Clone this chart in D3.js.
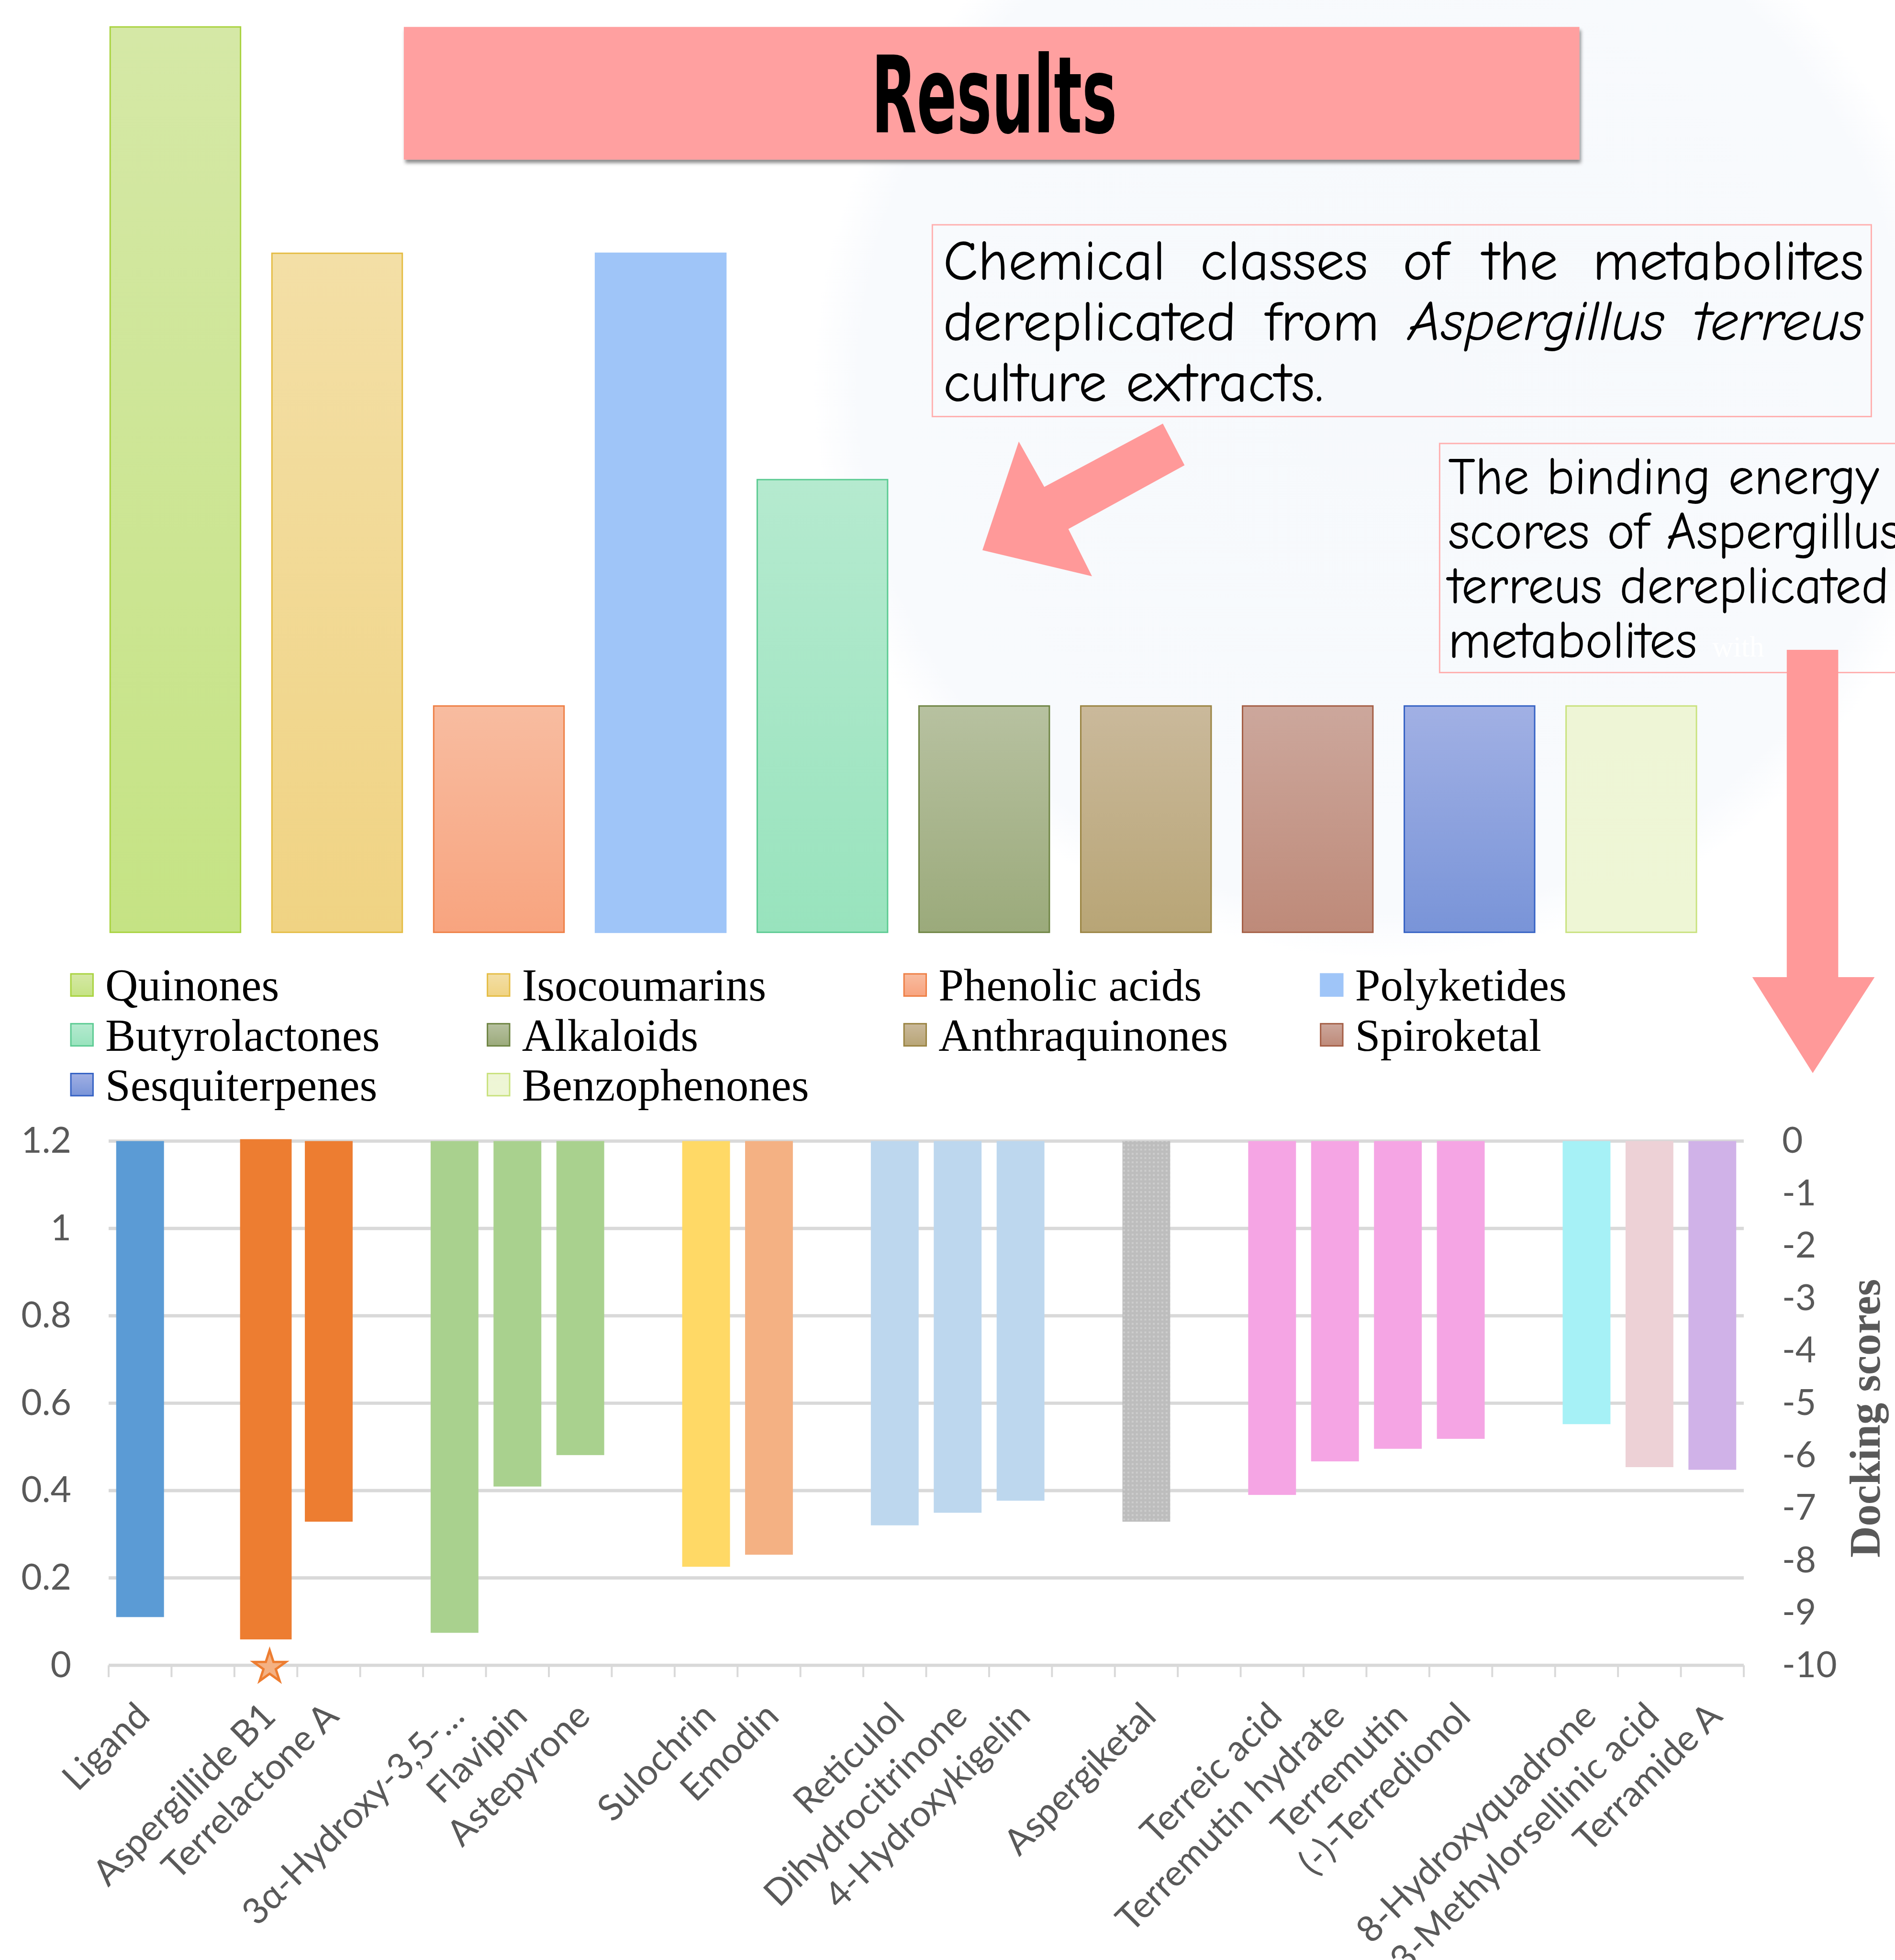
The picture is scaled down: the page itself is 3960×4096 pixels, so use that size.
<!DOCTYPE html>
<html>
<head>
<meta charset="utf-8">
<script src="https://cdn.jsdelivr.net/npm/d3@7"></script>
<style>
  body { margin: 0; background: #fff; }
  svg { display: block; }
</style>
</head>
<body>
<div id="chart"></div>
<script>
// ---- top chart: chemical classes ----
var classNames = ["Quinones", "Isocoumarins", "Phenolic acids", "Polyketides", "Butyrolactones",
                  "Alkaloids", "Anthraquinones", "Spiroketal", "Sesquiterpenes", "Benzophenones"];
var classCounts = [4, 3, 1, 3, 2, 1, 1, 1, 1, 1];
var classTopColor = ["#D5E8A6", "#F3DFA6", "#F8BCA0", "#9FC5F8", "#B5EACF",
                     "#B7C1A0", "#CAB99B", "#CCA79C", "#A1B0E4", "#EEF5D6"];
var classBottomColor = ["#C5E384", "#F0D383", "#F8A47F", "#9FC5F8", "#98E3BD",
                        "#9BAA7B", "#B8A576", "#BE8A79", "#7994D8", "#EEF6D5"];
var classEdgeColor = ["#A9D33F", "#E5BD45", "#EE7F45", "#9FC5F8", "#5DCB93",
                      "#6E8443", "#9A8442", "#A45E45", "#3562C4", "#C9E27E"];

// ---- bottom chart: docking scores ----
var compounds = ["Ligand", "", "Aspergillide B1", "Terrelactone A", "", "3α-Hydroxy-3,5-…", "Flavipin",
                 "Astepyrone", "", "Sulochrin", "Emodin", "", "Reticulol", "Dihydrocitrinone",
                 "4-Hydroxykigelin", "", "Aspergiketal", "", "Terreic acid", "Terremutin hydrate",
                 "Terremutin", "(-)-Terredionol", "", "8-Hydroxyquadrone", "3-Methylorsellinic acid",
                 "Terramide A"];
var dockingScores = [-9.08, null, -9.47, -7.26, null, -9.38, -6.59, -5.99, null, -8.12, -7.89, null,
                     -7.33, -7.09, -6.86, null, -7.26, null, -6.75, -6.11, -5.87, -5.68, null,
                     -5.40, -6.22, -6.27];
var compoundColors = ["#5B9BD5", null, "#ED7D31", "#ED7D31", null, "#A9D18E", "#A9D18E", "#A9D18E", null,
                      "#FFD966", "#F4B183", null, "#BDD7EE", "#BDD7EE", "#BDD7EE", null, "pattern", null,
                      "#F5A5E4", "#F5A5E4", "#F5A5E4", "#F5A5E4", null, "#A6F1F6", "#EDD1D6", "#D0B2E8"];
var leftTicks = [0, 0.2, 0.4, 0.6, 0.8, 1, 1.2];
var rightTicks = [0, -1, -2, -3, -4, -5, -6, -7, -8, -9, -10];
var highlighted = "Aspergillide B1";

var S = 0.987;
var svg = d3.select("#chart").append("svg")
  .attr("width", 3960)
  .attr("height", 4096);
var defs = svg.append("defs");
var g = svg.append("g").attr("transform", "scale(" + S + ")");

// background soft circle
var bg = defs.append("radialGradient").attr("id", "bgGrad");
bg.append("stop").attr("offset", "0%").attr("stop-color", "#F6F9FC");
bg.append("stop").attr("offset", "92%").attr("stop-color", "#F8FAFD");
bg.append("stop").attr("offset", "100%").attr("stop-color", "#FFFFFF");
g.append("circle").attr("cx", 2930).attr("cy", 820).attr("r", 1210).attr("fill", "url(#bgGrad)");

// gradients for class bars
classNames.forEach(function(c, i) {
  var lg = defs.append("linearGradient").attr("id", "cls" + i)
    .attr("x1", 0).attr("y1", 0).attr("x2", 0).attr("y2", 1);
  lg.append("stop").attr("offset", "0%").attr("stop-color", classTopColor[i]);
  lg.append("stop").attr("offset", "100%").attr("stop-color", classBottomColor[i]);
});

// dotted pattern for Aspergiketal
var pat = defs.append("pattern").attr("id", "dots")
  .attr("width", 9).attr("height", 9).attr("patternUnits", "userSpaceOnUse");
pat.append("rect").attr("width", 9).attr("height", 9).attr("fill", "#BDBDBD");
pat.append("rect").attr("x", 2).attr("y", 2).attr("width", 4).attr("height", 4).attr("fill", "#CDCDCD");

// shadow
var f = defs.append("filter").attr("id", "shadow").attr("x", "-5%").attr("y", "-20%").attr("width", "110%").attr("height", "150%");
f.append("feDropShadow").attr("dx", 3).attr("dy", 7).attr("stdDeviation", 4)
  .attr("flood-color", "#000").attr("flood-opacity", 0.45);

// ---------- top chart ----------
var xTop = d3.scaleBand()
  .domain(classNames)
  .range([200, 3625])
  .paddingInner(0.194)
  .paddingOuter(0.097);
var yTop = d3.scaleLinear().domain([0, 4]).range([1974, 57]);

g.append("g").selectAll("rect")
  .data(classNames)
  .enter()
  .append("rect")
  .attr("x", function(d) { return xTop(d); })
  .attr("y", function(d, i) { return yTop(classCounts[i]); })
  .attr("width", xTop.bandwidth())
  .attr("height", function(d, i) { return yTop(0) - yTop(classCounts[i]); })
  .style("fill", function(d, i) { return "url(#cls" + i + ")"; })
  .style("stroke", function(d, i) { return classEdgeColor[i]; })
  .style("stroke-width", 3);

// legend
var legend = g.append("g");
classNames.forEach(function(c, i) {
  var col = i % 4, row = Math.floor(i / 4);
  var lx = 150 + col * 882, ly = 2062 + row * 105.5;
  legend.append("rect")
    .attr("x", lx).attr("y", ly).attr("width", 47).attr("height", 47)
    .style("fill", "url(#cls" + i + ")")
    .style("stroke", classEdgeColor[i])
    .style("stroke-width", 3);
  legend.append("text")
    .attr("x", lx + 73).attr("y", ly + 57)
    .style("font-family", "'Liberation Serif', 'Times New Roman', serif")
    .style("font-size", "96px")
    .style("fill", "#000")
    .text(c);
});

// title
g.append("rect")
  .attr("x", 855).attr("y", 57).attr("width", 2489).attr("height", 281)
  .style("fill", "#FFA0A0")
  .attr("filter", "url(#shadow)");
g.append("text")
  .attr("x", 1845).attr("y", 281)
  .attr("textLength", 520)
  .attr("lengthAdjust", "spacingAndGlyphs")
  .style("font-family", "'DejaVu Sans Condensed', 'DejaVu Sans', sans-serif")
  .style("font-weight", "bold")
  .style("font-size", "225px")
  .style("fill", "#000")
  .text("Results");

// text boxes
var comic = "'Comic Sans MS', 'Comic Neue', 'Open Sans', sans-serif";
function wordWidth(str, italic) {
  var t = g.append("text").style("font-family", comic).style("font-size", "100px")
    .style("font-style", italic ? "italic" : "normal").text(str);
  var w = t.node().getComputedTextLength();
  t.remove();
  return w;
}

g.append("rect").attr("x", 1974).attr("y", 476).attr("width", 1988).attr("height", 406)
  .style("fill", "none").style("stroke", "#FFB0B0").style("stroke-width", 3);
var box1Lines = [
  [{t: "Chemical"}, {t: "classes"}, {t: "of"}, {t: "the"}, {t: "metabolites"}],
  [{t: "dereplicated"}, {t: "from"}, {t: "Aspergillus", it: true}, {t: "terreus", it: true}]
];
// size so that the second line's words take the same room as in the slide
var w2 = d3.sum(box1Lines[1], function(w) { return wordWidth(w.t, w.it); });
var fs1 = 100 * 1766 / w2;
box1Lines.forEach(function(words, li) {
  var y = 592 + li * 128;
  var nodes = words.map(function(w) {
    return g.append("text")
      .attr("y", y)
      .style("font-family", comic)
      .style("font-size", fs1 + "px")
      .style("font-style", w.it ? "italic" : "normal")
      .style("fill", "#000")
      .text(w.t);
  });
  var widths = nodes.map(function(n) { return n.node().getComputedTextLength(); });
  var gap = (3946 - 1997 - d3.sum(widths)) / (words.length - 1);
  var x = 1997;
  nodes.forEach(function(n, k) { n.attr("x", x); x += widths[k] + gap; });
});
g.append("text").attr("x", 1997).attr("y", 849)
  .style("font-family", comic).style("font-size", fs1 + "px").style("fill", "#000")
  .text("culture extracts.");

g.append("rect").attr("x", 3048).attr("y", 939).attr("width", 1100).attr("height", 485)
  .style("fill", "none").style("stroke", "#FFB0B0").style("stroke-width", 3);
var fs2 = 100 * 933 / wordWidth("terreus dereplicated", false);
var box2Lines = ["The binding energy", "scores of Aspergillus", "terreus dereplicated", "metabolites"];
box2Lines.forEach(function(l, li) {
  g.append("text").attr("x", 3066).attr("y", 1046 + li * 115.5)
    .style("font-family", comic).style("font-size", fs2 + "px").style("fill", "#000")
    .text(l);
});
g.append("text").attr("x", 3625).attr("y", 1390)
  .style("font-family", "'Liberation Serif', serif").style("font-size", "62px").style("fill", "#FFFFFF")
  .text("with");

// arrows
g.append("path")
  .attr("d", "M2080,1165 L2157,935 L2211,1031 L2462,897 L2508,985 L2262,1120 L2312,1220 Z")
  .style("fill", "#FF9999");
g.append("path")
  .attr("d", "M3783,1376 L3892,1376 L3892,2069 L3969,2069 L3838,2272 L3710,2069 L3783,2069 Z")
  .style("fill", "#FF9999");

// ---------- bottom chart ----------
var xBot = d3.scaleBand()
  .domain(d3.range(compounds.length))
  .range([230, 3692])
  .paddingInner(0.24)
  .paddingOuter(0.12);
var yLeft = d3.scaleLinear().domain([0, 1.2]).range([3526, 2416]);
var yDock = d3.scaleLinear().domain([0, -10]).range([2416, 3526]);
var step = xBot.step();

// gridlines
g.append("g").selectAll("line")
  .data(leftTicks)
  .enter()
  .append("line")
  .attr("x1", 230).attr("x2", 3692)
  .attr("y1", function(d) { return yLeft(d); })
  .attr("y2", function(d) { return yLeft(d); })
  .style("stroke", "#D9D9D9")
  .style("stroke-width", 7);

// category tick marks
g.append("g").selectAll("line")
  .data(d3.range(compounds.length + 1))
  .enter()
  .append("line")
  .attr("x1", function(i) { return 230 + i * step; })
  .attr("x2", function(i) { return 230 + i * step; })
  .attr("y1", yLeft(0))
  .attr("y2", yLeft(0) + 25)
  .style("stroke", "#D9D9D9")
  .style("stroke-width", 4);

// left and right axes
var axisFont = "Lato, 'Open Sans', sans-serif";
var leftAxis = g.append("g")
  .attr("transform", "translate(230,0)")
  .call(d3.axisLeft(yLeft).tickValues(leftTicks).tickSize(0).tickPadding(79)
    .tickFormat(function(d) { return String(d); }));
leftAxis.select(".domain").remove();
leftAxis.selectAll("text").style("font-family", axisFont).style("font-size", "76px").style("fill", "#595959");

var rightAxis = g.append("g")
  .attr("transform", "translate(3692,0)")
  .call(d3.axisRight(yDock).tickValues(rightTicks).tickSize(0).tickPadding(81)
    .tickFormat(function(d) { return d === 0 ? "0" : "-" + Math.abs(d); }));
rightAxis.select(".domain").remove();
rightAxis.selectAll("text").style("font-family", axisFont).style("font-size", "76px").style("fill", "#595959");

g.append("text")
  .attr("transform", "translate(3980,3003) rotate(-90)")
  .attr("text-anchor", "middle")
  .attr("textLength", 590)
  .attr("lengthAdjust", "spacingAndGlyphs")
  .style("font-family", "'Liberation Serif', 'Times New Roman', serif")
  .style("font-weight", "bold")
  .style("font-size", "92px")
  .style("fill", "#595959")
  .text("Docking scores");

// docking bars, hanging from 0
var barData = d3.range(compounds.length).filter(function(i) { return dockingScores[i] !== null; });
g.append("g").selectAll("rect")
  .data(barData)
  .enter()
  .append("rect")
  .attr("x", function(i) { return xBot(i); })
  .attr("y", yDock(0))
  .attr("width", xBot.bandwidth())
  .attr("height", function(i) { return yDock(dockingScores[i]) - yDock(0); })
  .style("fill", function(i) { return compoundColors[i] === "pattern" ? "url(#dots)" : compoundColors[i]; })
  .style("stroke", function(i) { return compounds[i] === highlighted ? compoundColors[i] : "none"; })
  .style("stroke-width", 8);

// star under the best scoring compound
var hi = compounds.indexOf(highlighted);
g.append("path")
  .attr("transform", "translate(" + (xBot(hi) + xBot.bandwidth() / 2 + 8) + "," + (yLeft(0) + 4) + ")")
  .attr("d", d3.symbol(d3.symbolStar, 1455)())
  .style("fill", "#F4B183")
  .style("stroke", "#ED7D31")
  .style("stroke-width", 5);

// category labels
g.append("g").selectAll("text")
  .data(d3.range(compounds.length).filter(function(i) { return compounds[i] !== ""; }))
  .enter()
  .append("text")
  .attr("transform", function(i) {
    return "translate(" + (xBot(i) + xBot.bandwidth() / 2 + 25) + "," + 3638 + ") rotate(-45)";
  })
  .attr("text-anchor", "end")
  .style("font-family", axisFont)
  .style("font-size", "77px")
  .style("fill", "#595959")
  .text(function(i) { return compounds[i]; });
</script>
</body>
</html>
